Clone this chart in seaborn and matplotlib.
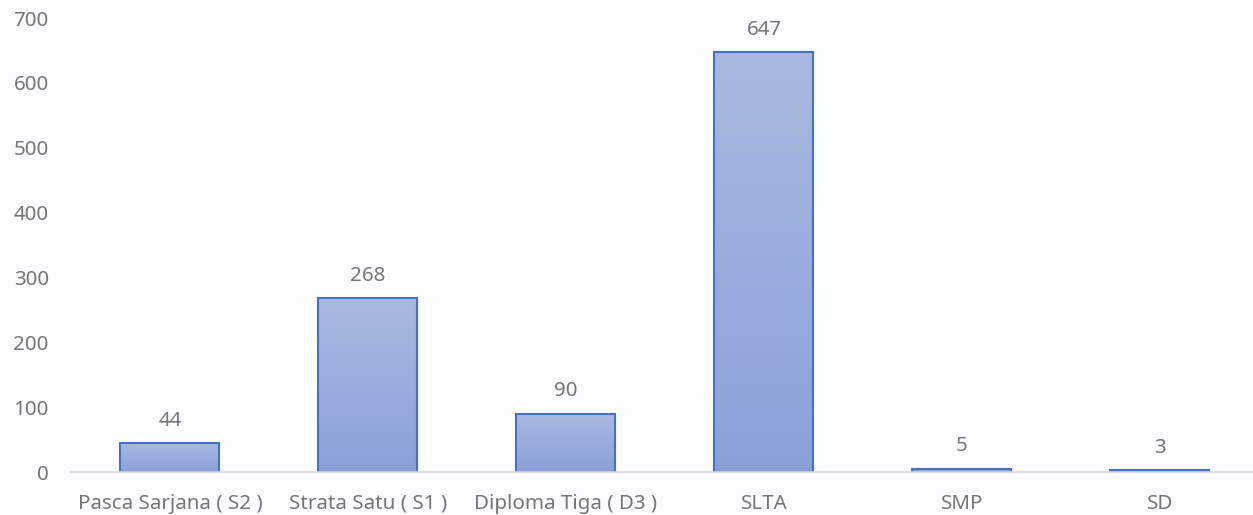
import numpy as np
import pandas as pd
import matplotlib
matplotlib.use("Agg")
import matplotlib.pyplot as plt
import seaborn as sns
from matplotlib.colors import LinearSegmentedColormap

categories = ["Pasca Sarjana ( S2 )", "Strata Satu ( S1 )", "Diploma Tiga ( D3 )", "SLTA", "SMP", "SD"]
values = [44, 268, 90, 647, 5, 3]
yticks = [0, 100, 200, 300, 400, 500, 600, 700]

sns.set_theme(style="white")
plt.rcParams['font.family'] = ['Noto Sans', 'DejaVu Sans']

bg = "#fbfcfe"
txt = "#767676"
fs = 14.8
fig = plt.figure(figsize=(12.53, 5.15), dpi=100, facecolor=bg)
ax = fig.add_axes([71/1253, 43/515, (1253-71)/1253 * 1.005, 454/515])
ax.set_facecolor(bg)

df = pd.DataFrame({"cat": categories, "val": values})
sns.barplot(data=df, x="cat", y="val", ax=ax, width=0.5, color="#9aaddc",
            edgecolor="#4472c4", linewidth=1.5, saturation=1)

cmap = LinearSegmentedColormap.from_list("g", ["#8aa0d8", "#aab9e1"])
grad = np.linspace(0, 1, 256).reshape(-1, 1)
for p in ax.patches:
    x0, y0 = p.get_x(), p.get_y()
    w, h = p.get_width(), p.get_height()
    p.set_facecolor("none")
    im = ax.imshow(grad, cmap=cmap, origin="lower", aspect="auto",
                   extent=[x0, x0 + w, y0, y0 + h], zorder=p.get_zorder() - 0.1,
                   interpolation="bicubic")
    im.set_clip_path(p)

ax.set_xlim(-0.5, 5.5)
ax.set_ylim(0, 700)
ax.set_yticks(yticks)
ax.set_xlabel("")
ax.set_ylabel("")
for s in ["top", "right", "left"]:
    ax.spines[s].set_visible(False)
ax.spines["bottom"].set_color("#d9d9d9")
ax.spines["bottom"].set_linewidth(1.2)
ax.tick_params(axis="both", length=0, labelsize=fs, labelcolor=txt)
ax.tick_params(axis="x", pad=26.5)
ax.tick_params(axis="y", pad=16)
for lab in ax.get_xticklabels():
    lab.set_verticalalignment("baseline")

for i, v in enumerate(values):
    ax.annotate(str(v), (i, v), xytext=(0, 9), textcoords="offset points",
                ha="center", va="bottom", fontsize=fs, color=txt)

fig.savefig("out.png", dpi=100, facecolor=bg)
